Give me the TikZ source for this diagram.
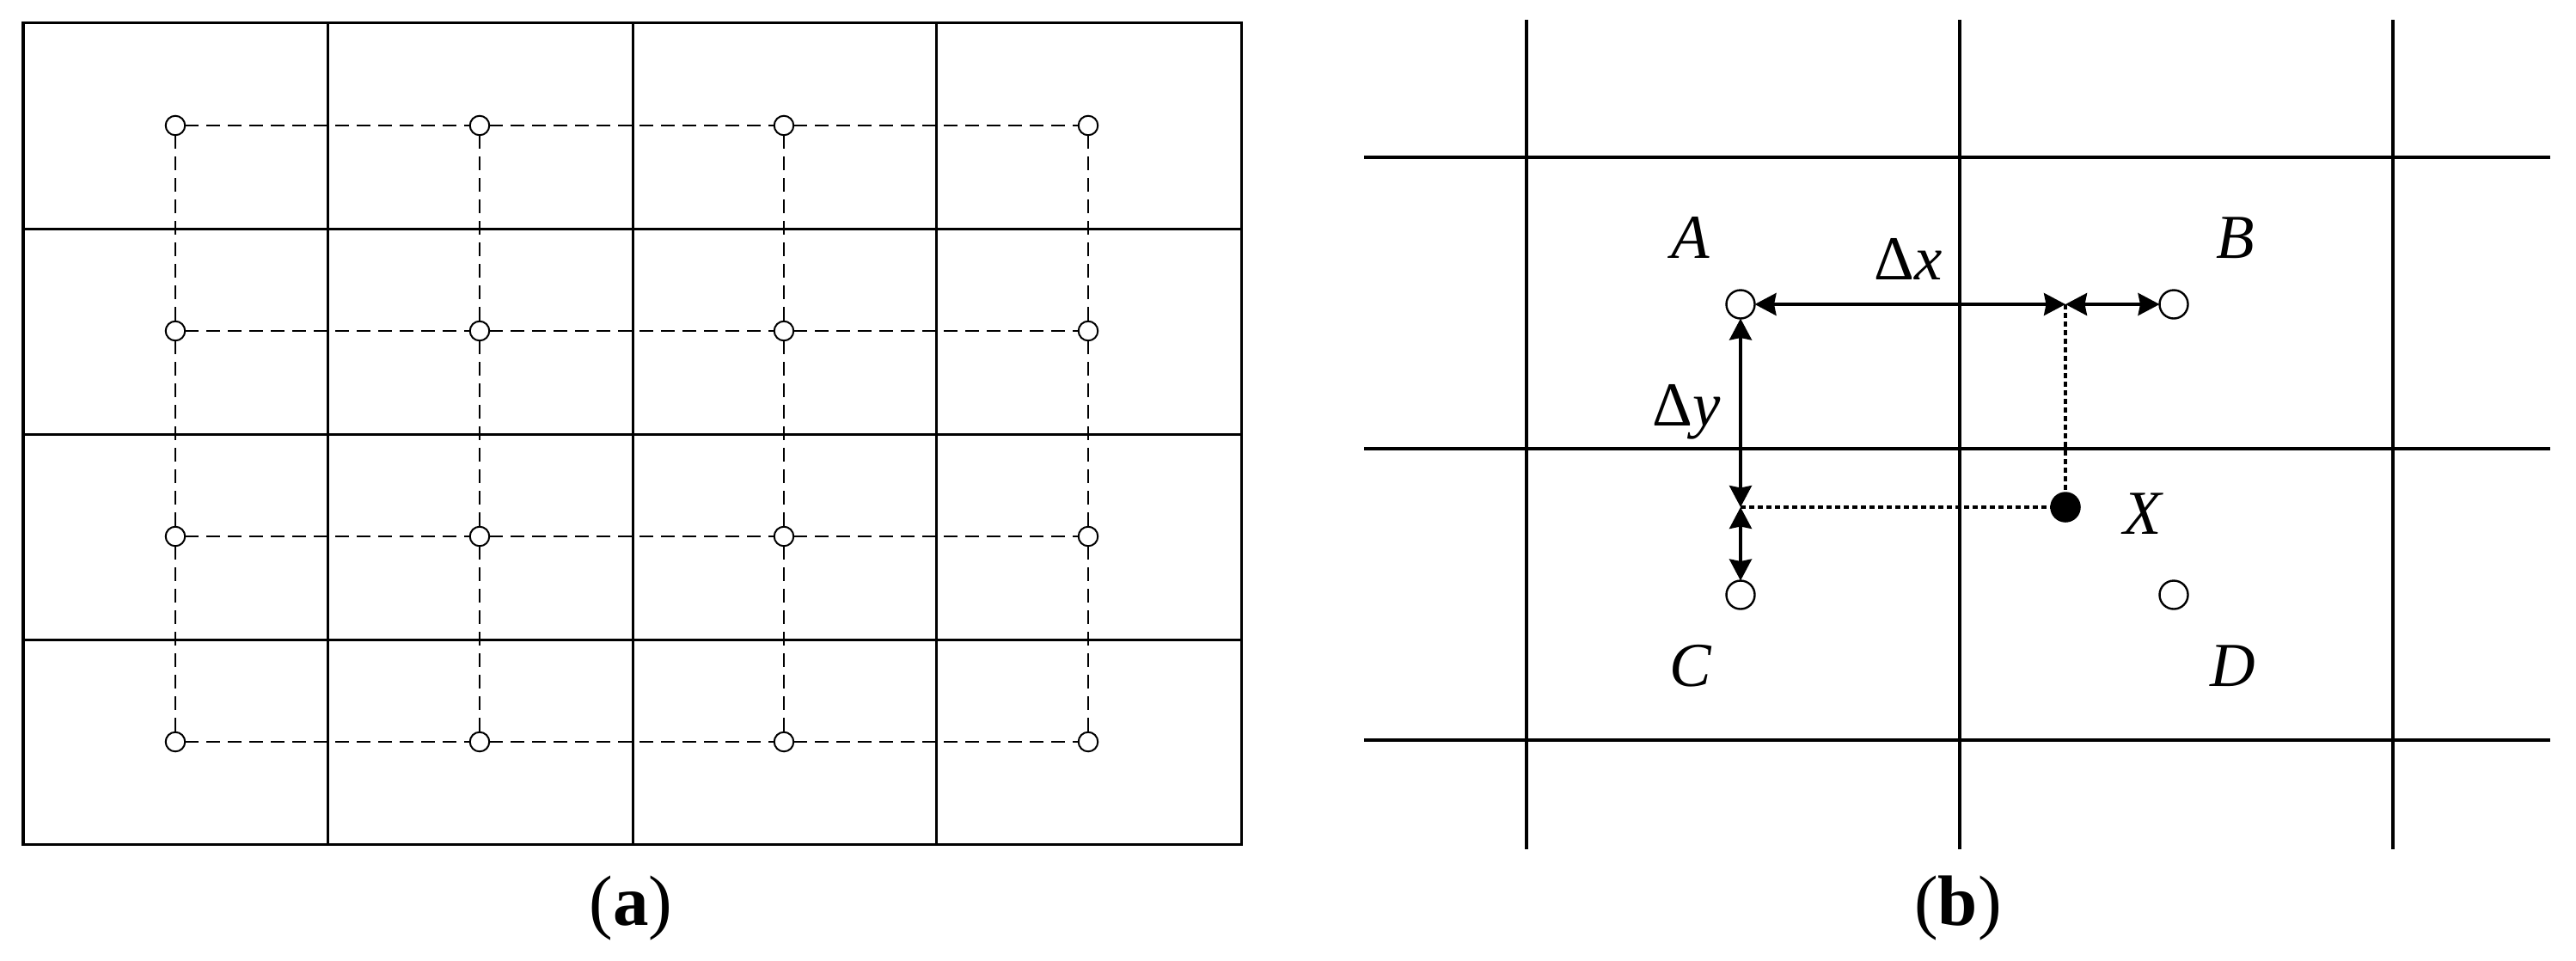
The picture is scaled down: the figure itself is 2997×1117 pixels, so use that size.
\documentclass[tikz,border=0pt]{standalone}
\usepackage{fontspec}
\setmainfont{Liberation Serif}
\usetikzlibrary{arrows.meta}
\begin{document}
\begin{tikzpicture}[x=0.01cm,y=-0.01cm,
  gridA/.style={line width=0.03cm},
  gridB/.style={line width=0.042cm},
  ptA/.style={circle,draw,line width=0.02cm,fill=white,minimum size=0.225cm,inner sep=0,outer sep=0},
  dashA/.style={line width=0.027cm,dash pattern=on 0.16cm off 0.09cm},
  ptB/.style={circle,draw,line width=0.024cm,fill=white,minimum size=0.33cm,inner sep=0,outer sep=0},
  dotB/.style={circle,fill=black,minimum size=0.355cm,inner sep=0,outer sep=0},
  dimarrow/.style={line width=0.036cm,{Stealth[length=0.25cm,width=0.26cm,inset=0.025cm]}-{Stealth[length=0.25cm,width=0.26cm,inset=0.025cm]}},
  guide/.style={line width=0.034cm,dash pattern=on 0.055cm off 0.045cm},
  lbl/.style={inner sep=0,anchor=base,font=\fontsize{20.7pt}{24pt}\selectfont},
  captxt/.style={inner sep=0,anchor=base,font=\fontsize{23.6pt}{28pt}\selectfont}
]
\useasboundingbox (0,0) rectangle (2997,1117);
% ---------- panel (a) ----------
\draw[gridA] (27,26) rectangle (1444,982);
\foreach \x in {381,736,1089} \draw[gridA] (\x,26) -- (\x,982);
\foreach \y in {266,505,744} \draw[gridA] (27,\y) -- (1444,\y);
\foreach \i/\x in {1/204,2/558,3/912,4/1266}
  \foreach \j/\y in {1/146,2/385,3/624,4/863}
    \node[ptA] (a\i\j) at (\x,\y) {};
\foreach \i in {1,...,4}
  \foreach \j/\k in {1/2,2/3,3/4} {
    \draw[dashA] (a\i\j) -- (a\i\k);
    \draw[dashA] (a\j\i) -- (a\k\i);
  }
% ---------- panel (b) ----------
\foreach \x in {1776,2280,2784} \draw[gridB] (\x,23) -- (\x,988);
\foreach \y in {183,522,861} \draw[gridB] (1587,\y) -- (2967,\y);
\node[ptB] (A) at (2025,354) {};
\node[ptB] (B) at (2529,354) {};
\node[ptB] (C) at (2025,692) {};
\node[ptB] (D) at (2529,692) {};
\node[dotB] (X) at (2403,590) {};
\coordinate (J1) at (2403,354);
\coordinate (J2) at (2025,590);
\draw[dimarrow] (A) -- (J1);
\draw[dimarrow] (J1) -- (B);
\draw[dimarrow] (A) -- (J2);
\draw[dimarrow] (J2) -- (C);
\draw[guide] (J1) -- (X);
\draw[guide] (J2) -- (X);
\node[lbl] (lA) at (1967,300) {\textit{A}};
\node[lbl] (lB) at (2601,300) {\textit{B}};
\node[lbl] (lC) at (1967,798) {\textit{C}};
\node[lbl] (lD) at (2598,798) {\textit{D}};
\node[lbl] (lX) at (2494,621) {\textit{X}};
\node[lbl] (ldx) at (2220,325) {Δ\textit{x}};
\node[lbl] (ldy) at (1962,495) {Δ\textit{y}};
% ---------- captions ----------
\node[captxt] (capa) at (734,1076) {(\textbf{a})};
\node[captxt] (capb) at (2278,1076) {(\textbf{b})};
\end{tikzpicture}
\end{document}
